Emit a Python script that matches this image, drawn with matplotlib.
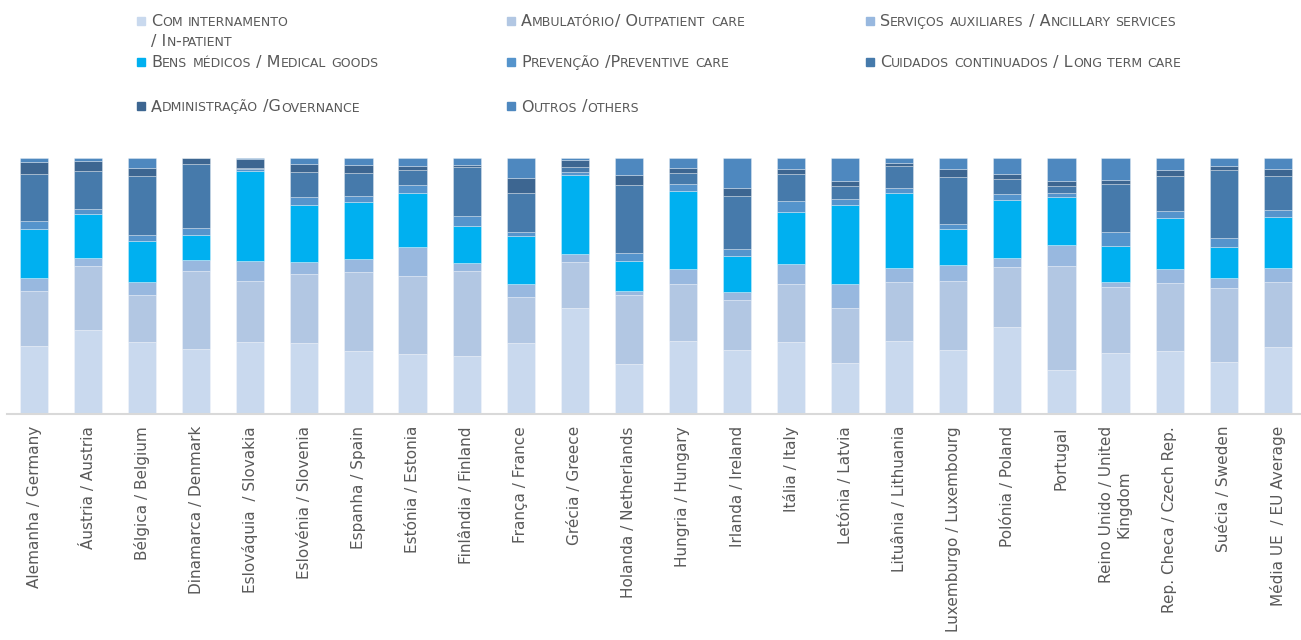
"""Despesa em saúde por função - barras empilhadas a 100%."""

import matplotlib

matplotlib.use("Agg")
import matplotlib.pyplot as plt
import numpy as np

countries = [
    "Alemanha / Germany", "Áustria / Austria", "Bélgica / Belgium",
    "Dinamarca / Denmark", "Eslováquia  / Slovakia", "Eslovénia / Slovenia",
    "Espanha / Spain", "Estónia / Estonia", "Finlândia / Finland",
    "França / France", "Grécia / Greece", "Holanda / Netherlands",
    "Hungria / Hungary", "Irlanda / Ireland", "Itália / Italy",
    "Letónia / Latvia", "Lituânia / Lithuania", "Luxemburgo / Luxembourg",
    "Polónia / Poland", "Portugal", "Reino Unido / United\nKingdom",
    "Rep. Checa / Czech Rep.", "Suécia / Sweden", "Média UE  / EU Average",
]

# % of current health expenditure, one list per function
inpatient = [26.6, 32.5, 27.8, 25.4, 28.0, 27.4, 24.4, 23.2, 22.7, 27.4, 41.1, 19.2,
             28.2, 25.0, 27.8, 19.6, 28.2, 25.0, 34.0, 17.2, 23.5, 24.4, 20.1, 26.1]
outpatient = [21.5, 25.4, 18.7, 30.5, 24.0, 27.2, 31.1, 30.8, 33.2, 18.1, 18.2, 27.1,
              22.3, 19.6, 22.9, 21.5, 23.3, 27.0, 23.5, 40.7, 26.2, 26.8, 29.2, 25.5]
ancillary = [5.1, 3.0, 5.0, 4.3, 7.8, 4.5, 5.1, 11.3, 3.0, 5.3, 3.3, 1.7,
             6.2, 2.9, 8.0, 9.4, 5.6, 6.3, 3.5, 7.9, 1.8, 5.4, 3.6, 5.2]
medical_goods = [19.0, 17.2, 16.2, 9.7, 35.0, 22.4, 22.2, 20.9, 14.5, 18.6, 30.8, 11.7,
                 30.5, 14.0, 20.2, 31.1, 29.1, 13.8, 22.6, 18.8, 14.2, 19.8, 12.4, 20.0]
preventive = [3.2, 2.0, 2.2, 2.7, 0.9, 3.4, 2.3, 3.2, 3.9, 1.8, 1.1, 3.3,
              2.6, 2.9, 4.4, 2.4, 2.1, 2.2, 2.3, 1.7, 5.2, 2.9, 3.5, 2.9]
long_term = [18.3, 14.9, 23.1, 25.1, 0.4, 9.6, 9.2, 5.9, 19.0, 15.1, 2.0, 26.6,
             4.3, 20.9, 10.6, 5.2, 8.7, 18.4, 5.9, 2.9, 19.1, 13.7, 26.6, 13.3]
governance = [4.6, 3.7, 3.2, 2.3, 3.5, 3.0, 3.0, 1.4, 1.0, 5.9, 2.6, 3.9,
              2.0, 2.8, 1.8, 1.8, 1.0, 2.9, 1.9, 1.7, 1.3, 2.3, 1.6, 2.6]
others = [1.7, 1.3, 3.8, 0.0, 0.4, 2.5, 2.7, 3.3, 2.7, 7.8, 0.9, 6.5,
          3.9, 11.9, 4.3, 9.0, 2.0, 4.4, 6.3, 9.1, 8.7, 4.7, 3.0, 4.4]

series = [
    ("Com internamento\n/ In-patient", inpatient, "#C9D9EE"),
    ("Ambulatório/ Outpatient care", outpatient, "#B2C7E3"),
    ("Serviços auxiliares / Ancillary services", ancillary, "#98B8DF"),
    ("Bens médicos / Medical goods", medical_goods, "#00B0F0"),
    ("Prevenção /Preventive care", preventive, "#5594CC"),
    ("Cuidados continuados / Long term care", long_term, "#467AAB"),
    ("Administração /Governance", governance, "#3D6691"),
    ("Outros /others", others, "#4E88BF"),
]

W, H = 1301, 640
fig = plt.figure(figsize=(W / 100, H / 100), dpi=100)
ax = fig.add_axes([7 / W, (H - 413.5) / H, (W - 7) / W, 255.5 / H])

x = np.arange(len(countries))
totals = np.sum([np.array(v) for _, v, _ in series], axis=0)
bottom = np.zeros(len(countries))
for name, vals, color in series:
    share = np.array(vals) / totals * 100
    ax.bar(x, share, 0.52, bottom=bottom, color=color,
           edgecolor=(1, 1, 1, 0.35), linewidth=0.6)
    bottom += share

ax.set_xlim(-0.5, 23.43)
ax.set_ylim(0, 100)
for side in ("left", "right", "top"):
    ax.spines[side].set_visible(False)
ax.spines["bottom"].set_color("#D9D9D9")
ax.spines["bottom"].set_linewidth(1.5)
ax.set_yticks([])
ax.set_xticks(x)
ax.set_xticklabels(countries, rotation=90, ha="center", va="top",
                   multialignment="center", fontsize=11, color="#595959")
ax.tick_params(axis="x", length=0, pad=9)

# legend drawn by hand, small-caps style text
renderer = fig.canvas.get_renderer()


def small_caps(px, py, text, big=11.5, small=9.0):
    cur = px
    runs = []
    for ch in text:
        is_small = ch.islower()
        if runs and runs[-1][1] == is_small:
            runs[-1][0] += ch
        else:
            runs.append([ch, is_small])
    for chunk, is_small in runs:
        t = fig.text(cur / W, 1 - py / H, chunk.upper() if is_small else chunk,
                     fontsize=small if is_small else big, color="#595959",
                     ha="left", va="baseline")
        bb = t.get_window_extent(renderer)
        cur += bb.width


col_x = [137, 507, 866]
row_y = [20.5, 61.5, 106]
for i, (name, _, color) in enumerate(series):
    cx, cy = col_x[i % 3], row_y[i // 3]
    fig.patches.append(plt.Rectangle((cx / W, 1 - (cy + 4) / H), 8 / W, 8 / H,
                                     transform=fig.transFigure, color=color))
    for j, line in enumerate(name.split("\n")):
        small_caps(cx + 14, cy + 5.5 + 20 * j, line)

fig.savefig("out.png", dpi=100)
